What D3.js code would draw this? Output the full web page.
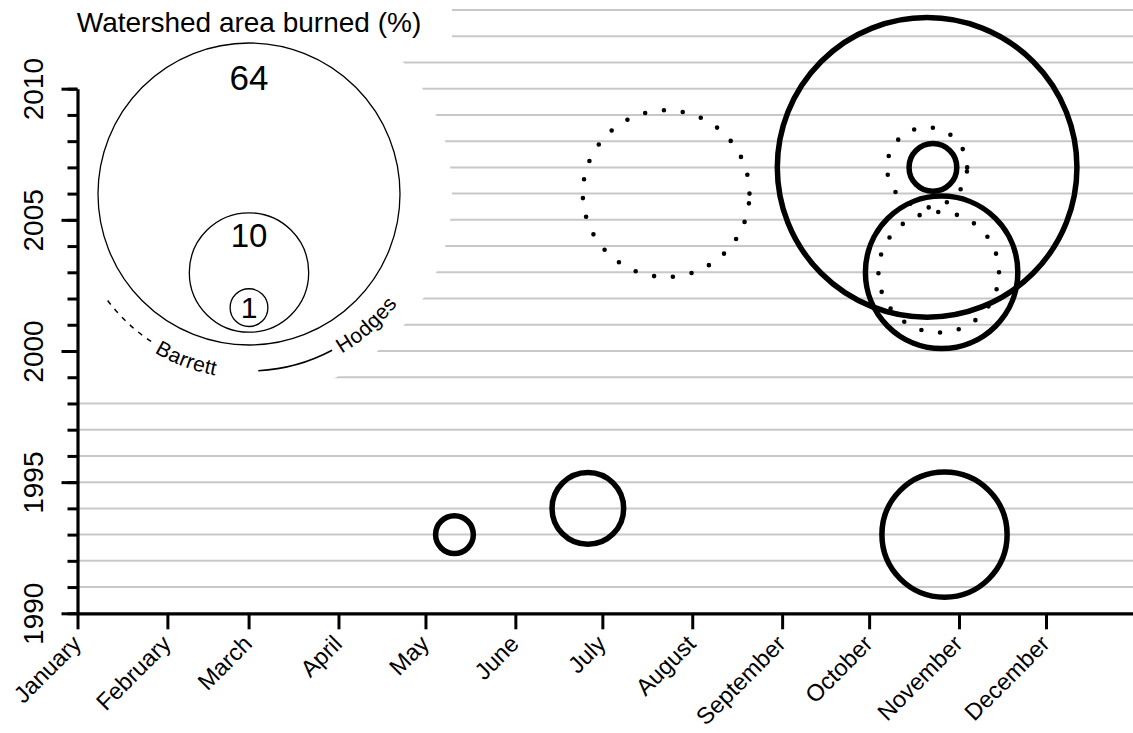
<!DOCTYPE html>
<html>
<head>
<meta charset="utf-8">
<script src="https://cdn.jsdelivr.net/npm/d3@7"></script>
<style>
  body { margin: 0; background: #fff; }
  svg { display: block; font-family: "Liberation Sans", Arial, Helvetica, sans-serif; }
</style>
</head>
<body>
<svg id="chart" width="1133" height="733"></svg>
<script>
// Fires per watershed: ignition date and share of the watershed burned (%)
const barrettDates  = ["2003-10-25", "2006-07-23", "2007-10-21"];
const barrettBurned = [10.2, 19.5, 4.5];
const hodgesDates   = ["1993-05-11", "1993-10-27", "1994-06-26", "2003-10-26", "2007-10-21", "2007-10-23"];
const hodgesBurned  = [1.0, 11.0, 3.6, 16.3, 63, 1.6];

const watersheds   = ["Barrett", "Hodges"];
const legendValues = [64, 10, 1];
const legendTitle  = "Watershed area burned (%)";
const monthLabels  = ["January", "February", "March", "April", "May", "June",
                      "July", "August", "September", "October", "November", "December"];
const yearTicks    = d3.range(1990, 2011);
const yearLabels   = [1990, 1995, 2000, 2005, 2010];
const gridYears    = d3.range(1991, 2014);

const W = 1133, H = 733;
const svg = d3.select("#chart");

// Day-of-year on a common (non-leap) calendar, year on the vertical
const refYear = 2001;
const x = d3.scaleUtc()
  .domain([Date.UTC(refYear, 0, 1), Date.UTC(refYear, 11, 31)])
  .range([77.5, W]);
const y = d3.scaleLinear().domain([1990, 2013]).range([613.3, 10]);
const r = d3.scaleSqrt().domain([0, 64]).range([0, 151]);

const parse = s => {
  const [yy, mm, dd] = s.split("-").map(Number);
  return { cx: x(Date.UTC(refYear, mm - 1, dd)), cy: y(yy) };
};
const barrett = barrettDates.map((d, i) => ({ ...parse(d), v: barrettBurned[i] }));
const hodges  = hodgesDates.map((d, i) => ({ ...parse(d), v: hodgesBurned[i] }));

// Horizontal year grid
svg.append("g").selectAll("line").data(gridYears).join("line")
  .attr("x1", x.range()[0]).attr("x2", W)
  .attr("y1", d => y(d)).attr("y2", d => y(d))
  .attr("stroke", "#c8c8c8").attr("stroke-width", 2);

// Legend geometry
const lcx = 249, lcy = 194;
const R0 = r(legendValues[0]);
const labelRadius = 177;
const rad = deg => deg * Math.PI / 180;

// White knockout behind the legend so grid lines stop short of it
const backdrop = svg.append("g").attr("fill", "#fff");
backdrop.append("circle").attr("cx", lcx).attr("cy", lcy).attr("r", R0 + 52);
backdrop.append("rect").attr("x", 0).attr("y", 0).attr("width", 452).attr("height", 48);
backdrop.append("rect").attr("x", 0).attr("y", 0).attr("width", lcx).attr("height", 392);

// X axis: month starts
const monthStarts = d3.utcMonth.range(new Date(Date.UTC(refYear, 0, 1)), new Date(Date.UTC(refYear + 1, 0, 1)));
const xAxis = svg.append("g")
  .attr("transform", `translate(0,${y(1990)})`)
  .call(d3.axisBottom(x).tickValues(monthStarts).tickSize(16).tickSizeOuter(0)
    .tickFormat((d, i) => monthLabels[i]));
xAxis.select(".domain").attr("stroke-width", 3.2);
xAxis.selectAll(".tick line").attr("stroke-width", 3);
xAxis.selectAll(".tick text")
  .attr("x", 0).attr("y", 0).attr("dy", 0)
  .attr("transform", "translate(4.5,32) rotate(-45)")
  .attr("text-anchor", "end")
  .attr("font-size", 23.5).attr("fill", "#000");

// Y axis: yearly ticks, longer and labelled every five years
const yAxisScale = y.copy().domain([1990, 2010]).range([y(1990), y(2010)]);
const yMinor = svg.append("g").attr("transform", `translate(${x.range()[0]},0)`)
  .call(d3.axisLeft(yAxisScale).tickValues(yearTicks).tickSize(10).tickSizeOuter(0).tickFormat(""));
yMinor.select(".domain").attr("stroke-width", 3.2);
yMinor.selectAll(".tick line").attr("stroke-width", 3);
const yMajor = svg.append("g").attr("transform", `translate(${x.range()[0]},0)`)
  .call(d3.axisLeft(yAxisScale).tickValues(yearLabels).tickSize(16).tickSizeOuter(0).tickFormat(d3.format("d")));
yMajor.select(".domain").remove();
yMajor.selectAll(".tick line").attr("stroke-width", 3);
yMajor.selectAll(".tick text")
  .attr("x", 0).attr("y", 0).attr("dy", 0)
  .attr("transform", "translate(-35,0) rotate(-90)")
  .attr("text-anchor", "middle")
  .attr("font-size", 28).attr("fill", "#000");

// Legend: title, nested reference circles, watershed line styles
const legend = svg.append("g");
legend.append("text")
  .attr("x", lcx).attr("y", 31.5).attr("text-anchor", "middle")
  .attr("font-size", 28).text(legendTitle);

const legendFont = [35, 33, 30];
const legendItems = legendValues.map((v, i) => {
  const rr = r(v);
  return { v, rr, cy: lcy + 0.86 * (R0 - rr), fs: legendFont[i], last: i === legendValues.length - 1 };
});
legend.selectAll("circle.ref").data(legendItems).join("circle")
  .attr("class", "ref")
  .attr("cx", lcx).attr("cy", d => d.cy).attr("r", d => d.rr)
  .attr("fill", "none").attr("stroke", "#000").attr("stroke-width", 1.3);
legend.selectAll("text.ref").data(legendItems).join("text")
  .attr("class", "ref")
  .attr("x", lcx)
  .attr("y", d => d.last ? d.cy + d.fs * 0.35 : d.cy - d.rr + d.fs * 0.72 + (d.rr > 100 ? 22 : 10))
  .attr("text-anchor", "middle")
  .attr("font-size", d => d.fs)
  .text(d => d.v);

// Arc under the reference circles that carries the watershed names
const arcPath = d3.path();
arcPath.arc(lcx, lcy, labelRadius, rad(145), rad(35), true);
legend.append("path").attr("id", "legendArc").attr("d", arcPath.toString()).attr("fill", "none");

const dashArc = d3.path();
dashArc.arc(lcx, lcy, labelRadius, rad(143), rad(123), true);
legend.append("path").attr("d", dashArc.toString())
  .attr("fill", "none").attr("stroke", "#000").attr("stroke-width", 1.5).attr("stroke-dasharray", "5 6");
const solidArc = d3.path();
solidArc.arc(lcx, lcy, labelRadius, rad(87), rad(62), true);
legend.append("path").attr("d", solidArc.toString())
  .attr("fill", "none").attr("stroke", "#000").attr("stroke-width", 1.5);

const arcOffsets = [rad(145 - 121) * labelRadius, rad(145 - 60) * labelRadius];
watersheds.forEach((name, i) => {
  legend.append("text").attr("font-size", 21).attr("dy", "0.36em")
    .append("textPath").attr("href", "#legendArc")
    .attr("startOffset", arcOffsets[i])
    .text(name);
});

// Fire circles: dotted for Barrett, solid for Hodges
function ring(cx, cy, rr) {
  const p = d3.path();
  p.moveTo(cx + rr, cy);
  p.arc(cx, cy, rr, 0, -2 * Math.PI, true);
  return p.toString();
}
svg.append("g").selectAll("path").data(barrett).join("path")
  .attr("d", d => ring(d.cx, d.cy, r(d.v)))
  .attr("fill", "none").attr("stroke", "#000").attr("stroke-width", 4.6)
  .attr("stroke-linecap", "round").attr("stroke-dasharray", "0 19");
svg.append("g").selectAll("circle").data(hodges).join("circle")
  .attr("cx", d => d.cx).attr("cy", d => d.cy).attr("r", d => r(d.v))
  .attr("fill", "none").attr("stroke", "#000").attr("stroke-width", 5.5);
</script>
</body>
</html>
